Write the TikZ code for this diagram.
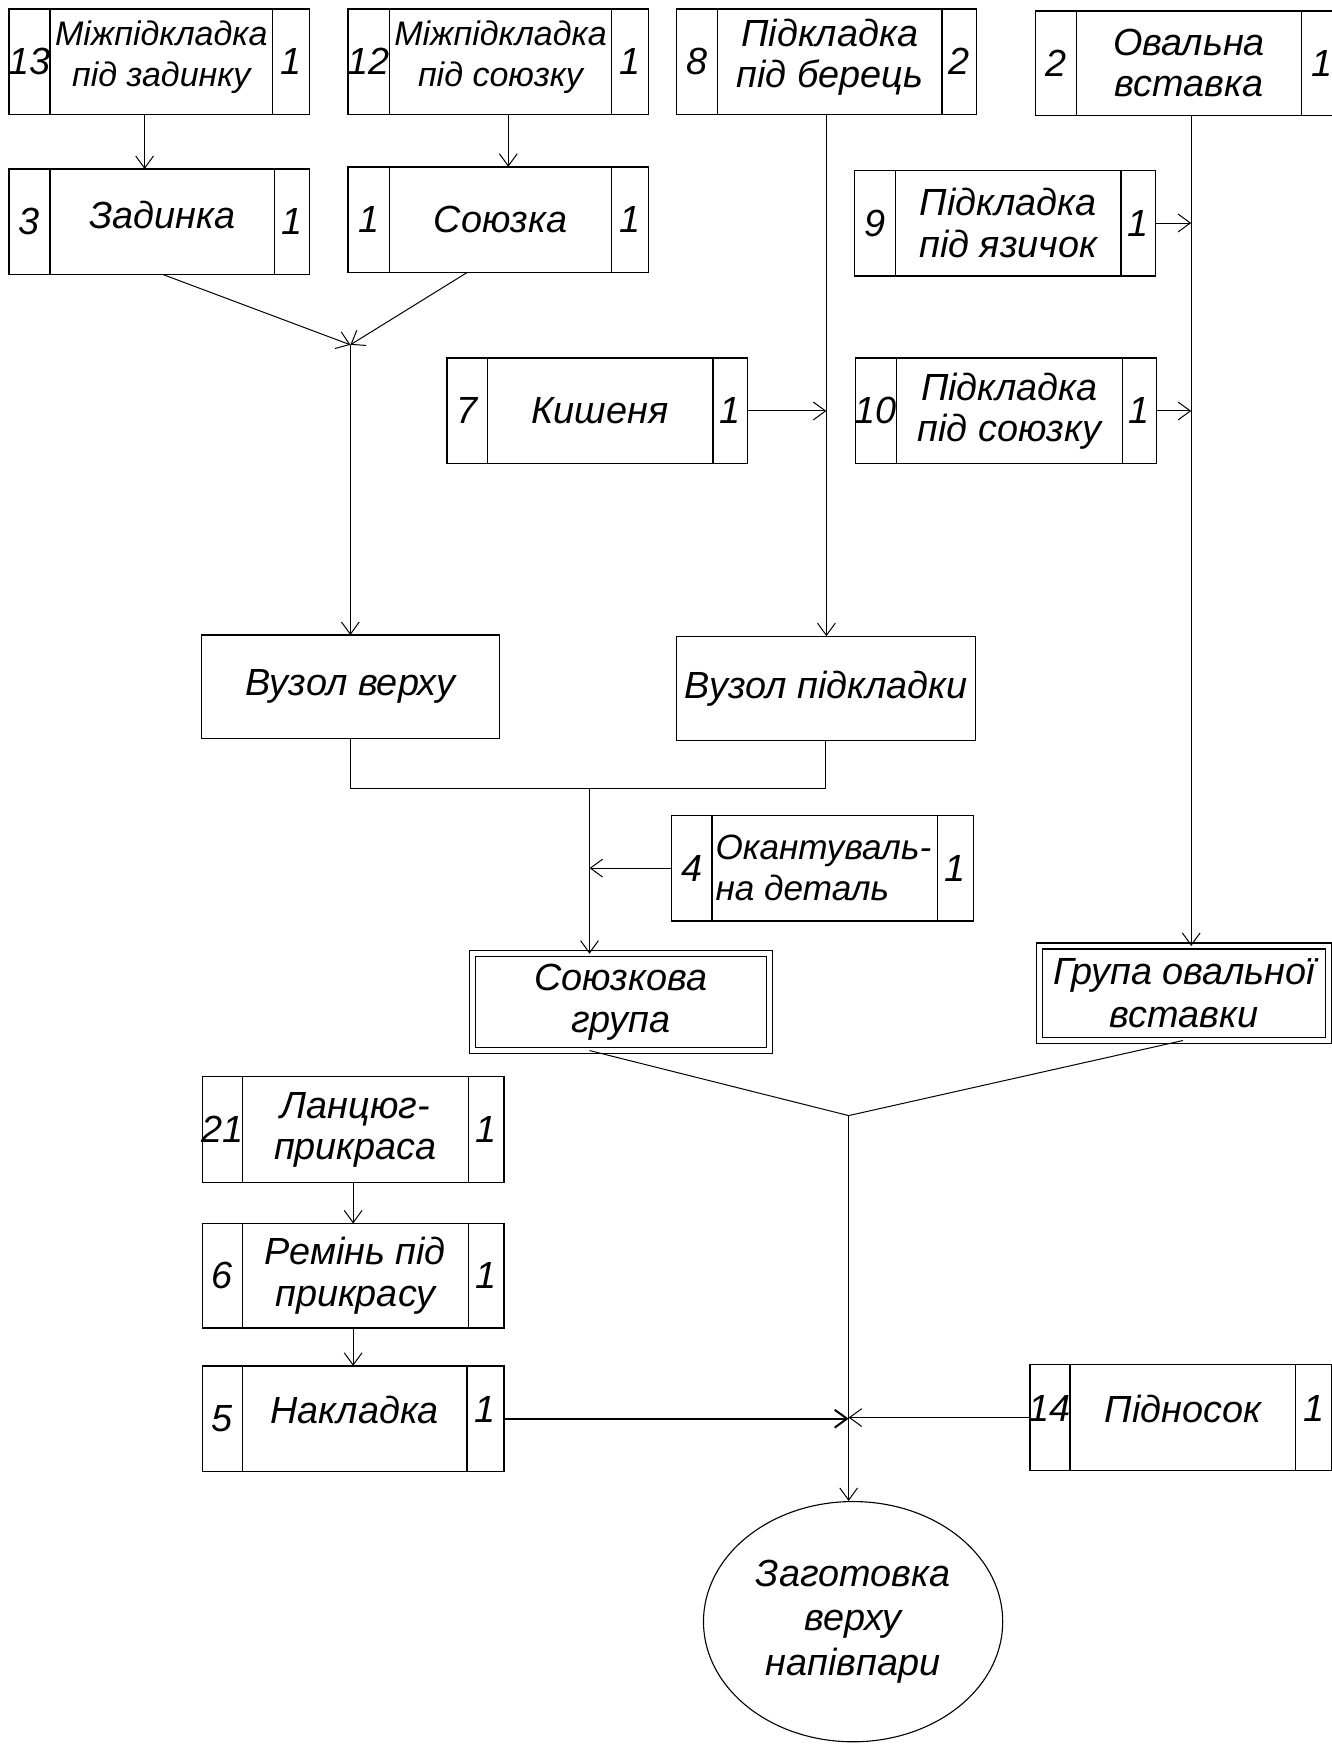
\documentclass[tikz,border=0pt]{standalone}
\usepackage{fontspec}
\setmainfont{Liberation Sans}
\usetikzlibrary{arrows.meta,shapes.geometric}
% name x1 y1 x2 y2 d1 d2
\newcommand\tribox[7]{%
  \node[cell, minimum width={(#4-#2)*0.5pt}, minimum height={(#5-#3)*0.5pt}] (#1) at ({(#2+#4)/2},{(#3+#5)/2}) {};
  \draw[cellline] (#6,#3) -- (#6,#5) (#7,#3) -- (#7,#5);
  \coordinate (#1-l) at ({(#2+#6)/2},{(#3+#5)/2});
  \coordinate (#1-m) at ({(#6+#7)/2},{(#3+#5)/2});
  \coordinate (#1-r) at ({(#7+#4)/2},{(#3+#5)/2});
}
\begin{document}
\begin{tikzpicture}[x=0.5pt,y=-0.5pt,
  cell/.style={draw, line width=0.6pt, rectangle, inner sep=0pt, outer sep=0pt},
  cellline/.style={line width=0.6pt},
  lbl/.style={font=\fontsize{17}{18.5}\selectfont\itshape, align=center, inner sep=0pt},
  slbl/.style={font=\fontsize{15.3}{18.5}\selectfont\itshape, align=center, inner sep=0pt},
  dbox/.style={draw, double, double distance=2.2pt, line width=0.5pt, inner sep=0pt, outer sep=0pt,
    font=\fontsize{17}{19}\selectfont\itshape, align=center},
  conn/.style={line width=0.45pt},
  arr/.style={conn, -{Straight Barb[length=5.5pt,width=8pt]}},
]
\useasboundingbox (0,0) rectangle (1197,1568);

% ---- row 1
\tribox{b13}{8}{8}{278}{103}{45}{245}
\node[lbl] (b13n) at (b13-l) {13};
\node[slbl] (b13t) at ([yshift=2pt]b13-m) {Міжпідкладка\\під задинку};
\node[lbl] (b13q) at (b13-r) {1};

\tribox{b12}{313}{8}{583}{103}{350}{550}
\node[lbl] (b12n) at (b12-l) {12};
\node[slbl] (b12t) at ([yshift=2pt]b12-m) {Міжпідкладка\\під союзку};
\node[lbl] (b12q) at (b12-r) {1};

\tribox{b8}{608}{8}{878}{103}{645}{847}
\node[lbl] (b8n) at (b8-l) {8};
\node[lbl] (b8t) at ([yshift=2pt]b8-m) {Підкладка\\під берець};
\node[lbl] (b8q) at (b8-r) {2};

\tribox{b2}{931}{10}{1207}{104}{968}{1170}
\node[lbl] (b2n) at (b2-l) {2};
\node[lbl] (b2t) at (b2-m) {Овальна\\вставка};
\node[lbl] (b2q) at (b2-r) {1};

% ---- row 2
\tribox{b3}{8}{152}{278}{247}{45}{247}
\node[lbl] (b3n) at (b3-l) {3};
\node[lbl] (b3t) at ([yshift=3pt]b3-m) {Задинка};
\node[lbl] (b3q) at (b3-r) {1};

\tribox{b1}{313}{150}{583}{245}{350}{550}
\node[lbl] (b1n) at (b1-l) {1};
\node[lbl] (b1t) at (b1-m) {Союзка};
\node[lbl] (b1q) at (b1-r) {1};

\tribox{b9}{768}{153}{1039}{248}{805}{1008}
\node[lbl] (b9n) at (b9-l) {9};
\node[lbl] (b9t) at (b9-m) {Підкладка\\під язичок};
\node[lbl] (b9q) at (b9-r) {1};

% ---- row 3
\tribox{b7}{402}{322}{672}{417}{438}{641}
\node[lbl] (b7n) at (b7-l) {7};
\node[lbl] (b7t) at (b7-m) {Кишеня};
\node[lbl] (b7q) at (b7-r) {1};

\tribox{b10}{769}{322}{1040}{417}{806}{1009}
\node[lbl] (b10n) at (b10-l) {10};
\node[lbl] (b10t) at (b10-m) {Підкладка\\під союзку};
\node[lbl] (b10q) at (b10-r) {1};

% ---- assembly units
\node[cell, minimum width=134pt, minimum height=46.5pt, font=\fontsize{17}{18.5}\selectfont\itshape] (vv) at (315,617.5) {Вузол верху};
\node[cell, minimum width=134.5pt, minimum height=47pt, font=\fontsize{17}{18.5}\selectfont\itshape] (vp) at (742.5,619) {Вузол підкладки};

\tribox{b4}{604}{733}{875}{828}{640}{843}
\node[lbl] (b4n) at (b4-l) {4};
\node[lbl, font=\fontsize{15.8}{18.5}\selectfont\itshape, align=left, anchor=west] (b4t) at (643,780.5) {Окантуваль-\\на деталь};
\node[lbl] (b4q) at (b4-r) {1};

\node[dbox, minimum width=133.5pt, minimum height=43.5pt] (sg) at (558,901) {Союзкова\\група};
\node[dbox, minimum width=130pt, minimum height=42.5pt] (gov) at (1064.5,893) {Група овальної\\вставки};

% ---- lower left
\tribox{b21}{182}{968}{453}{1063}{218}{421}
\node[lbl] (b21n) at (b21-l) {21};
\node[lbl] (b21t) at (b21-m) {Ланцюг-\\прикраса};
\node[lbl] (b21q) at (b21-r) {1};

\tribox{b6}{182}{1100}{453}{1194}{218}{421}
\node[lbl] (b6n) at (b6-l) {6};
\node[lbl] (b6t) at (b6-m) {Ремінь під\\прикрасу};
\node[lbl] (b6q) at (b6-r) {1};

\tribox{b5}{182}{1228}{453}{1323}{218}{420}
\node[lbl] (b5n) at (b5-l) {5};
\node[lbl] (b5t) at ([yshift=4pt]b5-m) {Накладка};
\node[lbl] (b5q) at ([yshift=4pt]b5-r) {1};

\tribox{b14}{926}{1227}{1197}{1322}{962}{1165}
\node[lbl] (b14n) at ([yshift=4pt]b14-l) {14};
\node[lbl] (b14t) at ([yshift=4pt]b14-m) {Підносок};
\node[lbl] (b14q) at ([yshift=4pt]b14-r) {1};

\node[draw, ellipse, line width=0.5pt, minimum width=134.5pt, minimum height=108pt, inner sep=0pt,
  font=\fontsize{17}{20}\selectfont\itshape, align=center] (ell) at (767,1458) {Заготовка\\верху\\напівпари};

% ---- connectors
\coordinate (m1) at (315,310);
\draw[arr] ([xshift=-6.5pt]b13.south) -- ([xshift=-6.5pt]b3.north);
\draw[arr] ([xshift=4.5pt]b12.south) -- ([xshift=4.5pt]b1.north);
\draw[arr] ([xshift=2pt]b3.south) -- (m1);
\draw[arr] ([xshift=-14pt]b1.south) -- (m1);
\draw[arr] (m1) -- (m1 |- vv.north);

\draw[arr] (b8.south) -- (b8.south |- vp.north);
\draw[arr] (b7.east) -- (b7.east -| b8.south);

\coordinate (ov) at ([xshift=1pt]b2.south);
\draw[arr] (ov) -- (ov |- gov.north);
\draw[arr] (b9.east) -- (b9.east -| ov);
\draw[arr] (b10.east) -- (b10.east -| ov);

\coordinate (j) at (530,709);
\draw[conn] (vv.south) |- (j) -| (vp.south);
\draw[arr] (j) -- (j |- sg.north);
\draw[arr] (b4.west) -- (b4.west -| j);

\coordinate (m2) at (763,1003);
\draw[conn] ([xshift=-14pt]sg.south) -- (m2) -- ([xshift=-0.5pt]gov.south);
\draw[arr] (m2) -- (m2 |- ell.north);

\draw[arr] (b21.south) -- (b6.north);
\draw[arr] (b6.south) -- (b5.north);
\draw[arr, line width=0.9pt] (b5.east) -- (b5.east -| m2);
\draw[arr] (b14.west) -- (b14.west -| m2);
\end{tikzpicture}
\end{document}
